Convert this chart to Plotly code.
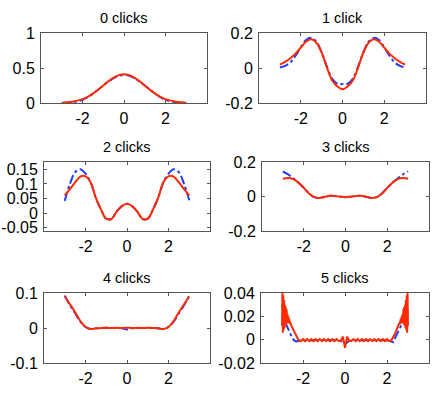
import plotly.graph_objects as go

# sample points along the cut (same for panels 1-5)
x = [-3.0, -2.75, -2.5, -2.25, -2.0, -1.75, -1.5, -1.25, -1.0, -0.75, -0.5, -0.25, 0.0,
     0.25, 0.5, 0.75, 1.0, 1.25, 1.5, 1.75, 2.0, 2.25, 2.5, 2.75, 3.0]

# 0 clicks
red0 = [0.005, 0.010, 0.019, 0.034, 0.056, 0.089, 0.134, 0.189, 0.249, 0.310, 0.362, 0.398, 0.412,
        0.398, 0.362, 0.310, 0.249, 0.189, 0.134, 0.089, 0.056, 0.034, 0.019, 0.010, 0.005]
blue0 = [0.000, 0.004, 0.011, 0.024, 0.045, 0.082, 0.132, 0.190, 0.250, 0.308, 0.356, 0.390, 0.400,
         0.390, 0.356, 0.308, 0.250, 0.190, 0.132, 0.082, 0.045, 0.024, 0.011, 0.004, 0.000]

# 1 click
red1 = [0.019, 0.035, 0.056, 0.082, 0.116, 0.150, 0.164, 0.144, 0.088, 0.004, -0.070, -0.105, -0.122,
        -0.105, -0.070, 0.004, 0.088, 0.144, 0.164, 0.150, 0.116, 0.082, 0.056, 0.035, 0.019]
blue1 = [0.003, 0.012, 0.032, 0.070, 0.118, 0.160, 0.172, 0.150, 0.090, 0.010, -0.060, -0.090, -0.092,
         -0.090, -0.060, 0.010, 0.090, 0.150, 0.172, 0.160, 0.118, 0.070, 0.032, 0.012, 0.003]

# 2 clicks
red2 = [0.061, 0.082, 0.105, 0.125, 0.126, 0.105, 0.052, 0.012, -0.019, -0.020, 0.005, 0.024, 0.032,
        0.024, 0.005, -0.020, -0.019, 0.012, 0.052, 0.105, 0.126, 0.125, 0.105, 0.082, 0.061]
blue2 = [0.042, 0.100, 0.140, 0.150, 0.135, 0.105, 0.052, 0.012, -0.019, -0.020, 0.005, 0.024, 0.032,
         0.024, 0.005, -0.020, -0.019, 0.012, 0.052, 0.105, 0.135, 0.150, 0.140, 0.100, 0.044]

# 3 clicks
red3 = [0.103, 0.107, 0.101, 0.080, 0.050, 0.018, -0.004, -0.008, -0.002, 0.004, 0.003, -0.001, -0.004,
        -0.001, 0.003, 0.004, -0.002, -0.008, -0.004, 0.018, 0.050, 0.080, 0.101, 0.107, 0.103]
blue3 = [0.145, 0.128, 0.105, 0.080, 0.050, 0.018, -0.004, -0.008, -0.002, 0.004, 0.003, -0.001, -0.004,
         -0.001, 0.003, 0.004, -0.002, -0.008, -0.004, 0.018, 0.050, 0.080, 0.105, 0.128, 0.145]

# 4 clicks
red4 = [0.090, 0.068, 0.045, 0.020, 0.003, -0.003, -0.001, 0.000, 0.0005, 0.000, 0.0005, 0.000, 0.001,
        0.000, 0.0005, 0.000, 0.0005, 0.000, -0.001, -0.003, 0.003, 0.020, 0.045, 0.068, 0.090]
blue4 = [0.093, 0.065, 0.042, 0.018, 0.003, -0.003, -0.001, 0.000, 0.0005, 0.000, 0.000, -0.001, -0.004,
         -0.001, 0.000, 0.000, 0.0005, 0.000, -0.001, -0.003, 0.003, 0.018, 0.042, 0.065, 0.093]

# 5 clicks (noisy, finer sampling near the ends)
x5 = [-3.00, -2.98, -2.96, -2.94, -2.92, -2.90, -2.88, -2.86, -2.84, -2.82, -2.80, -2.78, -2.76,
      -2.74, -2.72, -2.70, -2.68, -2.66, -2.64, -2.62, -2.60, -2.58, -2.56,
      -2.50, -2.45, -2.40, -2.35, -2.30, -2.25, -2.20, -2.10,
      -2.00, -1.90, -1.80, -1.70, -1.60, -1.50, -1.40, -1.30, -1.20, -1.10, -1.00,
      -0.90, -0.80, -0.70, -0.60, -0.50, -0.40, -0.30, -0.20, -0.10, -0.05, 0.00,
      0.05, 0.10, 0.20, 0.30, 0.40, 0.50, 0.60, 0.70, 0.80, 0.90,
      1.00, 1.10, 1.20, 1.30, 1.40, 1.50, 1.60, 1.70, 1.80, 1.90, 2.00,
      2.10, 2.20, 2.25, 2.30, 2.35, 2.40, 2.45, 2.50,
      2.56, 2.58, 2.60, 2.62, 2.64, 2.66, 2.68, 2.70, 2.72, 2.74, 2.76, 2.78,
      2.80, 2.82, 2.84, 2.86, 2.88, 2.90, 2.92, 2.94, 2.96, 2.98, 3.00]
red5 = [0.012, 0.040, 0.006, 0.038, 0.008, 0.034, 0.010, 0.030, 0.012, 0.028, 0.013, 0.026, 0.014,
        0.022, 0.015, 0.020, 0.014, 0.018, 0.014, 0.016, 0.013, 0.014, 0.012,
        0.010, 0.008, 0.006, 0.004, 0.002, 0.0005, -0.0008, -0.0012,
        0.0004, -0.0012, 0.0005, -0.0012, 0.0005, -0.0012, 0.0005, -0.0012, 0.0005, -0.0012, 0.0005,
        -0.0012, 0.0005, -0.0012, 0.0005, -0.0012, 0.0005, -0.0012, -0.001, 0.0025, -0.002, -0.007,
        -0.002, 0.0025, -0.001, -0.0012, 0.0005, -0.0012, 0.0005, -0.0012, 0.0005, -0.0012,
        0.0005, -0.0012, 0.0005, -0.0012, 0.0005, -0.0012, 0.0005, -0.0012, 0.0005, -0.0012, 0.0004,
        -0.0012, -0.0008, 0.0005, 0.002, 0.004, 0.006, 0.008, 0.010,
        0.012, 0.014, 0.013, 0.016, 0.014, 0.018, 0.014, 0.020, 0.015, 0.022, 0.014, 0.026,
        0.013, 0.028, 0.012, 0.030, 0.010, 0.034, 0.008, 0.038, 0.006, 0.040, 0.012]

xb5 = [-3.00, -2.95, -2.90, -2.85, -2.80, -2.70, -2.60, -2.50, -2.40, -2.30, -2.20,
       -2.00, -1.80, -1.60, -1.40, -1.20, -1.00, -0.80, -0.60, -0.40, -0.20, 0.00,
       0.20, 0.40, 0.60, 0.80, 1.00, 1.20, 1.40, 1.60, 1.80, 2.00,
       2.20, 2.30, 2.40, 2.50, 2.60, 2.70, 2.80, 2.90, 3.00]
blue5 = [0.030, 0.025, 0.020, 0.017, 0.013, 0.009, 0.005, 0.001, -0.001, -0.0015, -0.001,
         -0.0008, -0.0004, -0.0008, -0.0004, -0.0008, -0.0004, -0.0008, -0.0004, -0.0008, -0.001, -0.004,
         -0.001, -0.0008, -0.0004, -0.0008, -0.0004, -0.0008, -0.0004, -0.0008, -0.0004, -0.0008,
         -0.0015, -0.002, 0.002, 0.006, 0.010, 0.013, 0.016, 0.020, 0.025]

titles = ["0 clicks", "1 click", "2 clicks", "3 clicks", "4 clicks", "5 clicks"]

# y ranges and tick labels per panel
y_ranges = [[0, 1], [-0.2, 0.2], [-0.061, 0.175], [-0.2, 0.2], [-0.1, 0.1], [-0.02, 0.04]]
y_ticks = [[0, 0.5, 1], [-0.2, 0, 0.2], [-0.05, 0, 0.05, 0.1, 0.15],
           [-0.2, 0, 0.2], [-0.1, 0, 0.1], [-0.02, 0, 0.02, 0.04]]
y_ticktext = [["0", "0.5", "1"], ["-0.2", "0", "0.2"], ["-0.05", "0", "0.05", "0.1", "0.15"],
              ["-0.2", "0", "0.2"], ["-0.1", "0", "0.1"], ["-0.02", "0", "0.02", "0.04"]]
x_ticks = [-2, 0, 2]
x_ticktext = ["-2", "0", "2"]

# pixel boxes (left, right, top, bottom) in the 436x394 page
W, H = 436, 394
boxes = [(41, 207, 33, 103), (259, 426, 33, 103),
         (44, 210, 162, 231), (262, 429, 162, 231),
         (44, 210, 293, 363), (261, 429, 293, 363)]

panels = [(x, blue0, x, red0), (x, blue1, x, red1), (x, blue2, x, red2),
          (x, blue3, x, red3), (x, blue4, x, red4), (xb5, blue5, x5, red5)]

fig = go.Figure()
font = "Liberation Sans, Arial, Helvetica, sans-serif"

for i, (bx, by, rx, ry) in enumerate(panels):
    n = "" if i == 0 else str(i + 1)
    shape = "linear" if i == 5 else "spline"
    fig.add_trace(go.Scatter(x=bx, y=by, mode="lines", xaxis="x" + n, yaxis="y" + n,
                             line=dict(color="#1f3cff", width=2, dash="dashdot", shape=shape),
                             showlegend=False, hoverinfo="skip"))
    fig.add_trace(go.Scatter(x=rx, y=ry, mode="lines", xaxis="x" + n, yaxis="y" + n,
                             line=dict(color="#ff2a00", width=2, shape=shape),
                             showlegend=False, hoverinfo="skip"))

    l, r, t, b = boxes[i]
    axis_style = dict(showline=True, linecolor="#555555", linewidth=1, mirror="ticks",
                      ticks="inside", ticklen=3, tickcolor="#555555", showgrid=False,
                      zeroline=False, automargin=False,
                      tickfont=dict(family=font, size=16, color="black"))
    fig.layout["xaxis" + n] = dict(domain=[l / W, r / W], range=[-4, 4], anchor="y" + n,
                                   tickvals=x_ticks, ticktext=x_ticktext, ticklabelstandoff=1,
                                   **axis_style)
    fig.layout["yaxis" + n] = dict(domain=[1 - b / H, 1 - t / H], range=y_ranges[i], anchor="x" + n,
                                   tickvals=y_ticks[i], ticktext=y_ticktext[i], ticklabelstandoff=2,
                                   **axis_style)
    fig.add_annotation(text=titles[i], xref="paper", yref="paper",
                       x=(l + r) / 2 / W, y=1 - t / H, xanchor="center", yanchor="middle",
                       yshift=15, showarrow=False,
                       font=dict(family=font, size=14.5, color="black"))

fig.update_layout(template="none", width=W, height=H, margin=dict(l=0, r=0, t=0, b=0, pad=0),
                  paper_bgcolor="white", plot_bgcolor="white")

# drop the default page margin so the figure sits at the window origin
fig.write_html("out.html", config={"displayModeBar": False},
               post_script="document.body.style.margin='0';"
                           "document.documentElement.style.overflow='hidden';")
